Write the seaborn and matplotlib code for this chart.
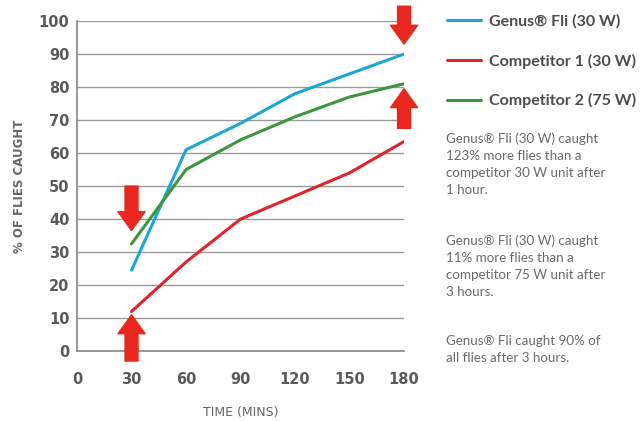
import seaborn as sns
import matplotlib.pyplot as plt
import pandas as pd

sns.set_style("white")
plt.rcParams['font.family'] = ['DejaVu Sans']

# data
minutes = [30, 60, 90, 120, 150, 180]
genus = [24.5, 61, 69, 78, 84, 90]
comp1 = [12, 27, 40, 47, 54, 63.5]
comp2 = [32.5, 55, 64, 71, 77, 81]
series = ['Genus® Fli (30 W)', 'Competitor 1 (30 W)', 'Competitor 2 (75 W)']
colors = ['#1aa7d4', '#e0242c', '#3c963c']
x_ticks = [0, 30, 60, 90, 120, 150, 180]
y_ticks = [0, 10, 20, 30, 40, 50, 60, 70, 80, 90, 100]

notes = [
    'Genus® Fli (30 W) caught\n123% more flies than a\ncompetitor 30 W unit after\n1 hour.',
    'Genus® Fli (30 W) caught\n11% more flies than a\ncompetitor 75 W unit after\n3 hours.',
    'Genus® Fli caught 90% of\nall flies after 3 hours.',
]

df = pd.DataFrame({
    'time': minutes * 3,
    'pct': genus + comp1 + comp2,
    'series': [s for s in series for _ in minutes],
})

fig = plt.figure(figsize=(6.44, 4.21), dpi=100)
ax = fig.add_axes([0.1196, 0.166, 0.5078, 0.784])

sns.lineplot(data=df, x='time', y='pct', hue='series', palette=dict(zip(series, colors)),
             linewidth=2.2, ax=ax, legend=False)

ax.set_xlim(0, 180)
ax.set_ylim(0, 100)
ax.set_xticks(x_ticks)
ax.set_yticks(y_ticks)
ax.yaxis.grid(True, color='#9a9a9a', linewidth=1.0)
ax.set_axisbelow(True)
for side in ['top', 'right']:
    ax.spines[side].set_visible(False)
for side in ['left', 'bottom']:
    ax.spines[side].set_color('#888888')
    ax.spines[side].set_linewidth(1.2)
ax.tick_params(axis='both', colors='#888888', length=4, direction='inout', width=1)
for lbl in ax.get_xticklabels() + ax.get_yticklabels():
    lbl.set_color('#5a5a5a')
    lbl.set_fontweight('bold')
    lbl.set_fontsize(10.5)
ax.tick_params(axis='x', pad=13)
ax.set_xlabel('TIME (MINS)', fontsize=9, color='#666666', labelpad=14)
ax.set_ylabel('% OF FLIES CAUGHT', fontsize=8.5, color='#666666', fontweight='bold', labelpad=9)

# red block arrows
arrow_red = '#e8281e'
arrows = [((30, 50), (30, 36.5)), ((30, -3), (30, 11)), ((180, 104.5), (180, 93)), ((180, 67.5), (180, 79.5))]
for start, end in arrows:
    ax.annotate('', xy=end, xytext=start, annotation_clip=False,
                arrowprops=dict(arrowstyle='simple,head_length=0.8,head_width=1.15,tail_width=0.55',
                                color=arrow_red, shrinkA=0, shrinkB=0, mutation_scale=17))

# legend
handles = [plt.Line2D([], [], color=c, linewidth=2.2) for c in colors]
leg = fig.legend(handles, series, loc='upper left', bbox_to_anchor=(0.672, 1.0),
                 frameon=False, handlelength=2.1, handletextpad=0.55, labelspacing=1.55,
                 prop=dict(family='Lato', weight='bold', size=11.5))
for t in leg.get_texts():
    t.set_color('#4d4d4d')

note_y = [0.685, 0.443, 0.205]
for y, txt in zip(note_y, notes):
    fig.text(0.693, y, txt, fontsize=9.6, color='#6a6a6a', family='Lato', va='top', linespacing=1.5)

fig.savefig('out.png', dpi=100)
